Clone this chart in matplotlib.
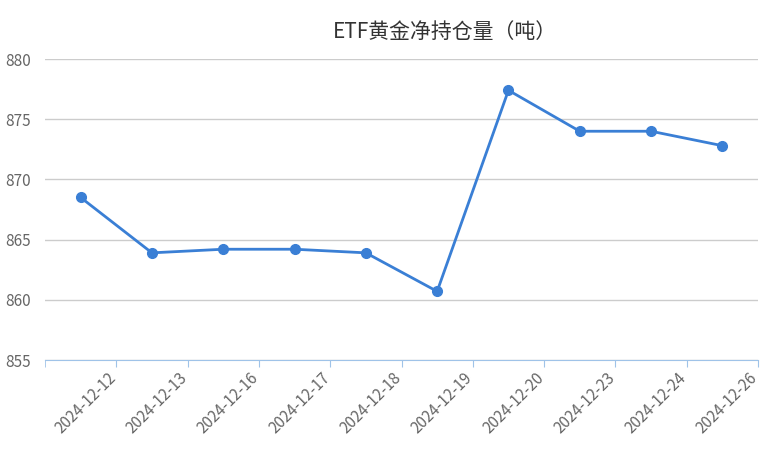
import matplotlib.pyplot as plt
import matplotlib.transforms as mtransforms

plt.rcParams['font.family'] = ['Noto Sans CJK SC', 'DejaVu Sans']

dates = ["2024-12-12", "2024-12-13", "2024-12-16", "2024-12-17", "2024-12-18",
         "2024-12-19", "2024-12-20", "2024-12-23", "2024-12-24", "2024-12-26"]
holdings = [868.5, 863.9, 864.2, 864.2, 863.9, 860.7, 877.4, 874.0, 874.0, 872.8]
yticks = [855, 860, 865, 870, 875, 880]

fig = plt.figure(figsize=(7.66, 4.5), dpi=100)
ax = fig.add_axes([45/766, 1 - 360/450, 713/766, 301/450])

x = list(range(len(dates)))
ax.plot(x, holdings, color='#3a7fd5', lw=2, marker='o', ms=7, zorder=3, clip_on=False)

ax.set_xlim(-0.5, len(dates) - 0.5)
ax.set_ylim(855, 880)
ax.set_yticks(yticks)
ax.set_yticklabels([str(v) for v in yticks], color='#666666', fontsize=11)
ax.grid(axis='y', color='#cccccc', lw=1)
ax.tick_params(axis='y', length=0, pad=10)

# category boundary ticks; labels sit at right edge of each category
ax.set_xticks([i + 0.5 for i in x])
ax.set_xticklabels(dates, rotation=45, ha='right', rotation_mode='anchor',
                   color='#666666', fontsize=11)
ax.tick_params(axis='x', length=5, color='#9fc3e8', pad=2)
offset = mtransforms.ScaledTranslation(-9/100, 0, fig.dpi_scale_trans)
for lab in ax.get_xticklabels():
    lab.set_transform(lab.get_transform() + offset)
ax.set_xticks([-0.5], minor=True)
ax.tick_params(axis='x', which='minor', length=5, color='#9fc3e8')

for s in ['top', 'right', 'left']:
    ax.spines[s].set_visible(False)
ax.spines['bottom'].set_color('#9fc3e8')

fig.text(445/766, 1 - 32/450, 'ETF黄金净持仓量（吨）', ha='center', va='center',
         fontsize=15, color='#333333')

fig.savefig('out.png', dpi=100)
